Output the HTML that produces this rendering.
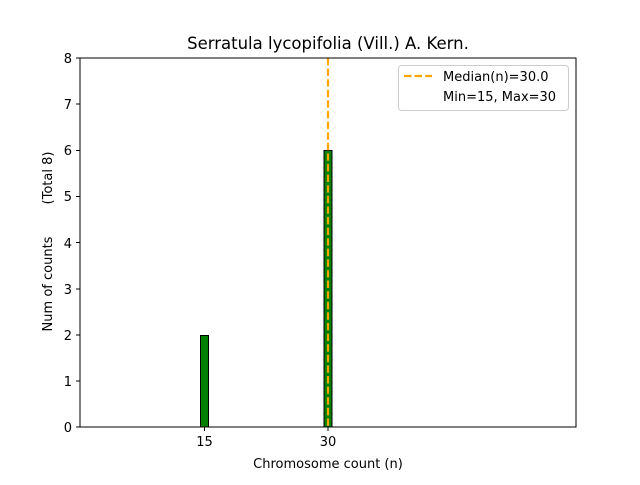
<!DOCTYPE html>
<html><head><style>body{margin:0;background:#fff}</style></head><body>
<svg width="640" height="480" xmlns="http://www.w3.org/2000/svg" font-family="'DejaVu Sans', sans-serif">
<rect width="640" height="480" fill="#fff"/>
<line x1="80" y1="427" x2="357" y2="427" stroke="#000" stroke-width="1" opacity="0.4"/>
<rect x="200.5" y="335.5" width="8" height="91.5" fill="#008000" stroke="#000" stroke-width="1"/>
<rect x="324" y="150.5" width="8" height="276.5" fill="#008000" stroke="#000" stroke-width="1"/>
<line x1="328" y1="58" x2="328" y2="427" stroke="orange" stroke-width="2.2" stroke-dasharray="7.4,3.2"/>
<rect x="80" y="58" width="496" height="369" fill="none" stroke="#000" stroke-width="1"/>
<g font-size="13" text-anchor="end">
<text x="72" y="432">0</text><text x="72" y="386">1</text><text x="72" y="340">2</text>
<text x="72" y="294">3</text><text x="72" y="248">4</text><text x="72" y="201">5</text>
<text x="72" y="155">6</text><text x="72" y="109">7</text><text x="72" y="63">8</text>
</g>
<g stroke="#000">
<line x1="76" y1="427" x2="80" y2="427"/><line x1="76" y1="381" x2="80" y2="381"/>
<line x1="76" y1="335" x2="80" y2="335"/><line x1="76" y1="289" x2="80" y2="289"/>
<line x1="76" y1="242.5" x2="80" y2="242.5"/><line x1="76" y1="196.5" x2="80" y2="196.5"/>
<line x1="76" y1="150.5" x2="80" y2="150.5"/><line x1="76" y1="104" x2="80" y2="104"/>
<line x1="76" y1="58" x2="80" y2="58"/>
<line x1="204.5" y1="427" x2="204.5" y2="431"/><line x1="328" y1="427" x2="328" y2="431"/>
</g>
<g font-size="13" text-anchor="middle">
<text x="204.5" y="446">15</text><text x="328" y="446">30</text>
<text x="328" y="468">Chromosome count (n)</text>
<text x="328" y="49" font-size="16.5">Serratula lycopifolia (Vill.) A. Kern.</text>
<text transform="translate(52,284) rotate(-90)">Num of counts</text>
<text transform="translate(52,178) rotate(-90)">(Total 8)</text>
</g>
<rect x="398.5" y="65.5" width="170" height="45" rx="3" fill="#fff" stroke="#ccc"/>
<line x1="404" y1="76" x2="432" y2="76" stroke="orange" stroke-width="2.2" stroke-dasharray="7.4,3.2"/>
<text x="443" y="81" font-size="13">Median(n)=30.0</text>
<text x="443" y="101" font-size="13">Min=15, Max=30</text>
</svg>
</body></html>
